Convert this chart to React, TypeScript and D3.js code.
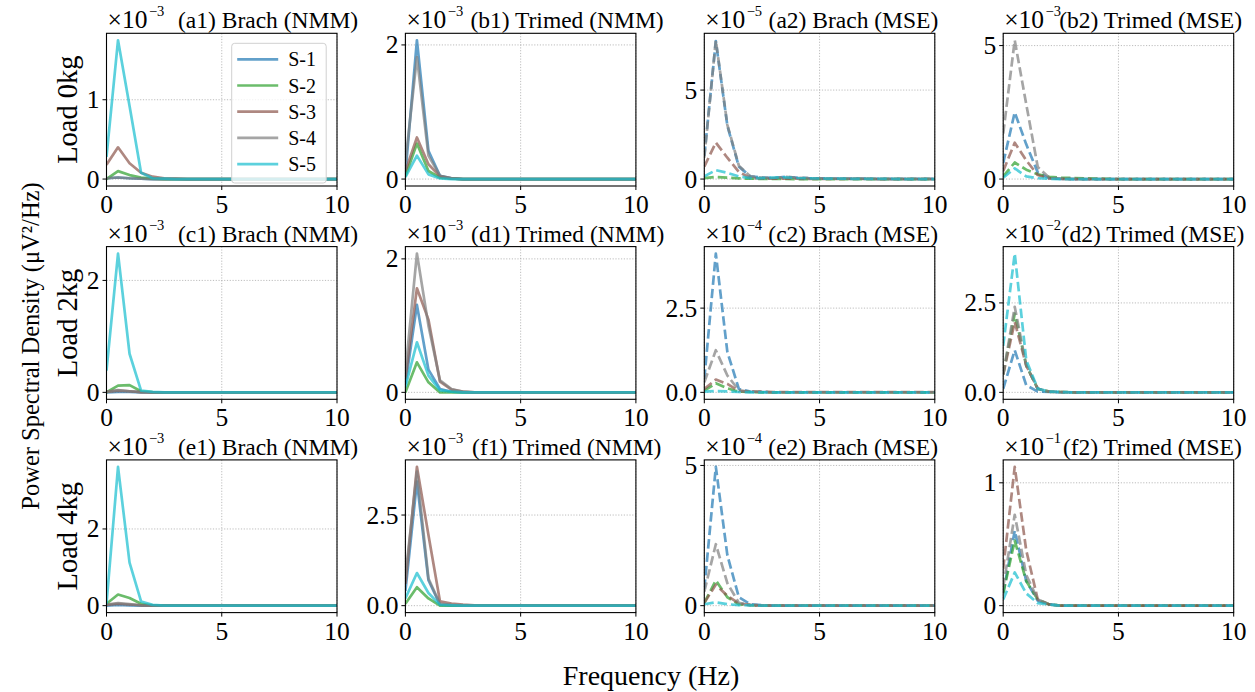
import React from "react";
import * as d3 from "d3";

const FREQ = [0, 0.5, 1, 1.5, 2, 2.5, 3, 3.5, 4, 4.5, 5, 5.5, 6, 6.5, 7, 7.5, 8, 8.5, 9, 9.5, 10];
const SERIES = ["S-1", "S-2", "S-3", "S-4", "S-5"];
const COLORS = ["#1f77b4", "#2ca02c", "#8c564b", "#7f7f7f", "#17becf"];
const ROW_LABELS = ["Load 0kg", "Load 2kg", "Load 4kg"];
const X_TICKS = [0, 5, 10];

const TITLES = [
  "(a1) Brach (NMM)", "(b1) Trimed (NMM)", "(a2) Brach (MSE)", "(b2) Trimed (MSE)",
  "(c1) Brach (NMM)", "(d1) Trimed (NMM)", "(c2) Brach (MSE)", "(d2) Trimed (MSE)",
  "(e1) Brach (NMM)", "(f1) Trimed (NMM)", "(e2) Brach (MSE)", "(f2) Trimed (MSE)",
];
const EXPONENTS = [-3, -3, -5, -3, -3, -3, -4, -2, -3, -3, -4, -1];
const Y_TICKS = [[0, 1], [0, 2], [0, 5], [0, 5], [0, 2], [0, 2], [0, 2.5], [0, 2.5], [0, 2], [0, 2.5], [0, 5], [0, 1]];
const Y_TICK_LABELS = [
  ["0", "1"], ["0", "2"], ["0", "5"], ["0", "5"],
  ["0", "2"], ["0", "2"], ["0.0", "2.5"], ["0.0", "2.5"],
  ["0", "2"], ["0.0", "2.5"], ["0", "5"], ["0", "1"],
];

// values in units of the panel multiplier (x10^exp), S-1..S-5
const PSD_A1 = [
  [0.01, 0.02, 0.01, 0.005, 0, 0, 0, 0, 0, 0, 0, 0, 0, 0, 0, 0, 0, 0, 0, 0, 0],
  [0.0, 0.10, 0.05, 0.02, 0.005, 0, 0, 0, 0, 0, 0, 0, 0, 0, 0, 0, 0, 0, 0, 0, 0],
  [0.18, 0.40, 0.20, 0.08, 0.03, 0.01, 0.005, 0, 0, 0, 0, 0, 0, 0, 0, 0, 0, 0, 0, 0, 0],
  [0.01, 0.02, 0.01, 0.005, 0, 0, 0, 0, 0, 0, 0, 0, 0, 0, 0, 0, 0, 0, 0, 0, 0],
  [0.28, 1.75, 0.92, 0.08, 0.01, 0.005, 0, 0, 0, 0, 0, 0, 0, 0, 0, 0, 0, 0, 0, 0, 0],
];
const PSD_B1 = [
  [0.08, 2.07, 0.42, 0.05, 0.01, 0, 0, 0, 0, 0, 0, 0, 0, 0, 0, 0, 0, 0, 0, 0, 0],
  [0.04, 0.53, 0.12, 0.02, 0.005, 0, 0, 0, 0, 0, 0, 0, 0, 0, 0, 0, 0, 0, 0, 0, 0],
  [0.12, 0.62, 0.22, 0.04, 0.01, 0, 0, 0, 0, 0, 0, 0, 0, 0, 0, 0, 0, 0, 0, 0, 0],
  [0.25, 1.82, 0.35, 0.05, 0.01, 0, 0, 0, 0, 0, 0, 0, 0, 0, 0, 0, 0, 0, 0, 0, 0],
  [0.03, 0.35, 0.07, 0.01, 0, 0, 0, 0, 0, 0, 0, 0, 0, 0, 0, 0, 0, 0, 0, 0, 0],
];
const PSD_A2 = [
  [1.3, 7.75, 3.0, 0.7, 0.15, 0.08, 0.06, 0.12, 0.08, 0.05, 0.04, 0.03, 0.02, 0.02, 0.02, 0.01, 0.01, 0.01, 0.01, 0.01, 0.01],
  [0.05, 0.12, 0.08, 0.04, 0.02, 0.01, 0.01, 0.01, 0, 0, 0, 0, 0, 0, 0, 0, 0, 0, 0, 0, 0],
  [0.7, 2.05, 1.2, 0.4, 0.06, 0.03, 0.02, 0.03, 0.02, 0.01, 0.01, 0.01, 0.01, 0.01, 0.01, 0, 0, 0, 0, 0, 0],
  [1.2, 7.8, 3.05, 0.75, 0.15, 0.08, 0.06, 0.12, 0.08, 0.05, 0.04, 0.03, 0.02, 0.02, 0.02, 0.01, 0.01, 0.01, 0.01, 0.01, 0.01],
  [0.15, 0.5, 0.35, 0.15, 0.05, 0.05, 0.08, 0.1, 0.06, 0.04, 0.03, 0.02, 0.02, 0.01, 0.01, 0.01, 0.01, 0, 0, 0, 0],
];
const PSD_B2 = [
  [0.6, 2.5, 1.3, 0.25, 0.03, 0.01, 0, 0, 0, 0, 0, 0, 0, 0, 0, 0, 0, 0, 0, 0, 0],
  [0.1, 0.62, 0.35, 0.18, 0.08, 0.05, 0.04, 0.03, 0.02, 0.01, 0, 0, 0, 0, 0, 0, 0, 0, 0, 0, 0],
  [0.3, 1.36, 0.7, 0.15, 0.02, 0.01, 0, 0, 0, 0, 0, 0, 0, 0, 0, 0, 0, 0, 0, 0, 0],
  [1.7, 5.2, 2.8, 0.45, 0.05, 0.02, 0.01, 0, 0, 0, 0, 0, 0, 0, 0, 0, 0, 0, 0, 0, 0],
  [0.05, 0.4, 0.1, 0.03, 0.01, 0, 0, 0, 0, 0, 0, 0, 0, 0, 0, 0, 0, 0, 0, 0, 0],
];
const PSD_C1 = [
  [0.0, 0.01, 0.01, 0, 0, 0, 0, 0, 0, 0, 0, 0, 0, 0, 0, 0, 0, 0, 0, 0, 0],
  [0.0, 0.12, 0.13, 0.02, 0.005, 0, 0, 0, 0, 0, 0, 0, 0, 0, 0, 0, 0, 0, 0, 0, 0],
  [0.01, 0.03, 0.02, 0.005, 0, 0, 0, 0, 0, 0, 0, 0, 0, 0, 0, 0, 0, 0, 0, 0, 0],
  [0.01, 0.04, 0.02, 0.005, 0, 0, 0, 0, 0, 0, 0, 0, 0, 0, 0, 0, 0, 0, 0, 0, 0],
  [0.39, 2.48, 0.69, 0.03, 0.01, 0, 0, 0, 0, 0, 0, 0, 0, 0, 0, 0, 0, 0, 0, 0, 0],
];
const PSD_D1 = [
  [0.12, 1.31, 0.34, 0.05, 0.01, 0, 0, 0, 0, 0, 0, 0, 0, 0, 0, 0, 0, 0, 0, 0, 0],
  [0.0, 0.45, 0.15, 0.0, 0, 0, 0, 0, 0, 0, 0, 0, 0, 0, 0, 0, 0, 0, 0, 0, 0],
  [0.2, 1.56, 1.09, 0.16, 0.04, 0.01, 0, 0, 0, 0, 0, 0, 0, 0, 0, 0, 0, 0, 0, 0, 0],
  [0.3, 2.08, 1.0, 0.18, 0.05, 0.01, 0, 0, 0, 0, 0, 0, 0, 0, 0, 0, 0, 0, 0, 0, 0],
  [0.08, 0.75, 0.25, 0.03, 0.01, 0, 0, 0, 0, 0, 0, 0, 0, 0, 0, 0, 0, 0, 0, 0, 0],
];
const PSD_C2 = [
  [0.4, 4.12, 1.2, 0.1, 0.02, 0.01, 0, 0, 0, 0, 0, 0, 0, 0, 0, 0, 0, 0, 0, 0, 0],
  [0.05, 0.27, 0.12, 0.02, 0.01, 0, 0, 0, 0, 0, 0, 0, 0, 0, 0, 0, 0, 0, 0, 0, 0],
  [0.1, 0.38, 0.25, 0.04, 0.02, 0.02, 0.01, 0.01, 0.01, 0.01, 0.01, 0.01, 0.01, 0.01, 0.01, 0.01, 0.01, 0.01, 0.01, 0.01, 0.01],
  [0.3, 1.25, 0.5, 0.06, 0.02, 0.01, 0, 0, 0, 0, 0, 0, 0, 0, 0, 0, 0, 0, 0, 0, 0],
  [0.02, 0.04, 0.03, 0.01, 0, 0, 0, 0, 0, 0, 0, 0, 0, 0, 0, 0, 0, 0, 0, 0, 0],
];
const PSD_D2 = [
  [0.1, 1.18, 0.2, 0.02, 0.01, 0, 0, 0, 0, 0, 0, 0, 0, 0, 0, 0, 0, 0, 0, 0, 0],
  [0.5, 2.2, 0.75, 0.1, 0.02, 0.01, 0, 0, 0, 0, 0, 0, 0, 0, 0, 0, 0, 0, 0, 0, 0],
  [0.5, 1.97, 0.75, 0.1, 0.02, 0.01, 0, 0, 0, 0, 0, 0, 0, 0, 0, 0, 0, 0, 0, 0, 0],
  [0.5, 2.39, 0.75, 0.1, 0.02, 0.01, 0, 0, 0, 0, 0, 0, 0, 0, 0, 0, 0, 0, 0, 0, 0],
  [1.3, 3.88, 0.9, 0.1, 0.02, 0.01, 0, 0, 0, 0, 0, 0, 0, 0, 0, 0, 0, 0, 0, 0, 0],
];
const PSD_E1 = [
  [0.0, 0.02, 0.01, 0, 0, 0, 0, 0, 0, 0, 0, 0, 0, 0, 0, 0, 0, 0, 0, 0, 0],
  [0.05, 0.29, 0.2, 0.05, 0.01, 0, 0, 0, 0, 0, 0, 0, 0, 0, 0, 0, 0, 0, 0, 0, 0],
  [0.02, 0.05, 0.03, 0.01, 0, 0, 0, 0, 0, 0, 0, 0, 0, 0, 0, 0, 0, 0, 0, 0, 0],
  [0.03, 0.07, 0.04, 0.01, 0, 0, 0, 0, 0, 0, 0, 0, 0, 0, 0, 0, 0, 0, 0, 0, 0],
  [0.05, 3.62, 1.12, 0.11, 0.02, 0, 0, 0, 0, 0, 0, 0, 0, 0, 0, 0, 0, 0, 0, 0, 0],
];
const PSD_F1 = [
  [0.4, 3.42, 0.7, 0.03, 0.01, 0, 0, 0, 0, 0, 0, 0, 0, 0, 0, 0, 0, 0, 0, 0, 0],
  [0.05, 0.51, 0.2, 0.0, 0, 0, 0, 0, 0, 0, 0, 0, 0, 0, 0, 0, 0, 0, 0, 0, 0],
  [0.6, 3.83, 1.95, 0.12, 0.06, 0.03, 0.01, 0, 0, 0, 0, 0, 0, 0, 0, 0, 0, 0, 0, 0, 0],
  [0.8, 3.7, 0.75, 0.05, 0.02, 0, 0, 0, 0, 0, 0, 0, 0, 0, 0, 0, 0, 0, 0, 0, 0],
  [0.2, 0.9, 0.35, 0.02, 0.01, 0, 0, 0, 0, 0, 0, 0, 0, 0, 0, 0, 0, 0, 0, 0, 0],
];
const PSD_E2 = [
  [0.6, 4.95, 1.8, 0.3, 0.05, 0.02, 0, 0, 0, 0, 0, 0, 0, 0, 0, 0, 0, 0, 0, 0, 0],
  [0.1, 0.9, 0.3, 0.05, 0.02, 0, 0, 0, 0, 0, 0, 0, 0, 0, 0, 0, 0, 0, 0, 0, 0],
  [0.1, 0.75, 0.35, 0.08, 0.02, 0, 0, 0, 0, 0, 0, 0, 0, 0, 0, 0, 0, 0, 0, 0, 0],
  [0.5, 2.19, 0.8, 0.1, 0.03, 0.01, 0, 0, 0, 0, 0, 0, 0, 0, 0, 0, 0, 0, 0, 0, 0],
  [0.05, 0.12, 0.05, 0.02, 0.01, 0, 0, 0, 0, 0, 0, 0, 0, 0, 0, 0, 0, 0, 0, 0, 0],
];
const PSD_F2 = [
  [0.1, 0.61, 0.2, 0.04, 0.01, 0, 0, 0, 0, 0, 0, 0, 0, 0, 0, 0, 0, 0, 0, 0, 0],
  [0.1, 0.53, 0.2, 0.05, 0.01, 0, 0, 0, 0, 0, 0, 0, 0, 0, 0, 0, 0, 0, 0, 0, 0],
  [0.3, 1.13, 0.45, 0.05, 0.01, 0, 0, 0, 0, 0, 0, 0, 0, 0, 0, 0, 0, 0, 0, 0, 0],
  [0.15, 0.74, 0.25, 0.05, 0.01, 0, 0, 0, 0, 0, 0, 0, 0, 0, 0, 0, 0, 0, 0, 0, 0],
  [0.05, 0.27, 0.1, 0.02, 0.01, 0, 0, 0, 0, 0, 0, 0, 0, 0, 0, 0, 0, 0, 0, 0, 0],
];

const PANELS = [PSD_A1, PSD_B1, PSD_A2, PSD_B2, PSD_C1, PSD_D1, PSD_C2, PSD_D2, PSD_E1, PSD_F1, PSD_E2, PSD_F2];

// layout
const W = 1255, H = 692;
const AX_LEFT0 = 106.5, AX_TOP0 = 33.3, AX_W = 230.5, AX_H = 152.7;
const COL_STEP = 298.9, ROW_STEP = 213.3;
const TITLE_OFFSETS = [71.5, 65, 64.3, 56, 71.5, 65.7, 64, 58.4, 71.5, 66.7, 64, 59.7];
const FONT = "'Liberation Serif', 'Times New Roman', serif";
const TICK_FS = 25.5;

function Panel({ idx }: { idx: number }) {
  const row = Math.floor(idx / 4), col = idx % 4;
  const left = AX_LEFT0 + col * COL_STEP;
  const top = AX_TOP0 + row * ROW_STEP;
  const data = PANELS[idx];
  const all = data.flat();
  const lo = d3.min(all) as number, hi = d3.max(all) as number;
  const m = 0.05 * (hi - lo);
  const x = d3.scaleLinear().domain([0, 10]).range([0, AX_W]);
  const y = d3.scaleLinear().domain([lo - m, hi + m]).range([AX_H, 0]);
  const line = d3.line<number>().x((_, i) => x(FREQ[i])).y((v) => y(v));
  const dashed = col >= 2;
  return (
    <g transform={`translate(${left},${top})`}>
      <defs>
        <clipPath id={`clip${idx}`}>
          <rect x={0} y={0} width={AX_W} height={AX_H} />
        </clipPath>
      </defs>
      {X_TICKS.map((t) => (
        <line key={"gx" + t} x1={x(t)} x2={x(t)} y1={0} y2={AX_H} stroke="#a0a0a0" strokeWidth={0.7} strokeDasharray="1.2,1.6" />
      ))}
      {Y_TICKS[idx].map((t) => (
        <line key={"gy" + t} x1={0} x2={AX_W} y1={y(t)} y2={y(t)} stroke="#a0a0a0" strokeWidth={0.7} strokeDasharray="1.2,1.6" />
      ))}
      <g clipPath={`url(#clip${idx})`}>
        {data.map((s, k) => (
          <path
            key={k}
            d={line(s) as string}
            fill="none"
            stroke={COLORS[k]}
            strokeOpacity={0.7}
            strokeWidth={2.7}
            strokeLinejoin="round"
            strokeDasharray={dashed ? "9.5,4" : undefined}
          />
        ))}
      </g>
      <rect x={0} y={0} width={AX_W} height={AX_H} fill="none" stroke="#000" strokeWidth={1.1} />
      {X_TICKS.map((t) => (
        <g key={"xt" + t}>
          <line x1={x(t)} x2={x(t)} y1={AX_H} y2={AX_H + 4} stroke="#000" strokeWidth={1} />
          <text x={x(t)} y={AX_H + 27} textAnchor="middle" fontSize={TICK_FS} fontFamily={FONT}>{t}</text>
        </g>
      ))}
      {Y_TICKS[idx].map((t, j) => (
        <g key={"yt" + t}>
          <line x1={-4} x2={0} y1={y(t)} y2={y(t)} stroke="#000" strokeWidth={1} />
          <text x={-7} y={y(t) + 8.5} textAnchor="end" fontSize={TICK_FS} fontFamily={FONT}>{Y_TICK_LABELS[idx][j]}</text>
        </g>
      ))}
      <text x={1} y={-5} fontSize={TICK_FS} fontFamily={FONT}>
        ×10<tspan dx={1.5} dy={-12} fontSize={14.5}>{"\u2212" + Math.abs(EXPONENTS[idx])}</tspan>
      </text>
      <text x={TITLE_OFFSETS[idx]} y={-5} fontSize={23.5} fontFamily={FONT}>{TITLES[idx]}</text>
      {col === 0 && (
        <text transform={`translate(${-30},${AX_H / 2}) rotate(-90)`} textAnchor="middle" fontSize={28.5} fontFamily={FONT}>
          {ROW_LABELS[row]}
        </text>
      )}
    </g>
  );
}

function Legend() {
  const lx = 231.7, ly = 43.3, lw = 94.5, lh = 139.7;
  return (
    <g>
      <rect x={lx} y={ly} width={lw} height={lh} rx={3} fill="#fff" fillOpacity={0.8} stroke="#d0d0d0" strokeWidth={1} />
      {SERIES.map((s, k) => {
        const yy = ly + 16 + k * 26.2;
        return (
          <g key={s}>
            <line x1={lx + 5.5} x2={lx + 46.5} y1={yy} y2={yy} stroke={COLORS[k]} strokeOpacity={0.7} strokeWidth={2.7} />
            <text x={lx + 56.5} y={yy + 7} fontSize={20} fontFamily={FONT}>{s}</text>
          </g>
        );
      })}
    </g>
  );
}

export default function App() {
  return (
    <svg width={W} height={H} style={{ display: "block", position: "absolute", left: 0, top: 0, background: "#fff" }}>
      <rect x={0} y={0} width={W} height={H} fill="#fff" />
      {PANELS.map((_, i) => (
        <Panel key={i} idx={i} />
      ))}
      <Legend />
      <text transform={`translate(${39},${346}) rotate(-90)`} textAnchor="middle" fontSize={24.5} fontFamily={FONT}>
        Power Spectral Density (μV²/Hz)
      </text>
      <text x={651} y={685} textAnchor="middle" fontSize={28} fontFamily={FONT}>Frequency (Hz)</text>
    </svg>
  );
}
